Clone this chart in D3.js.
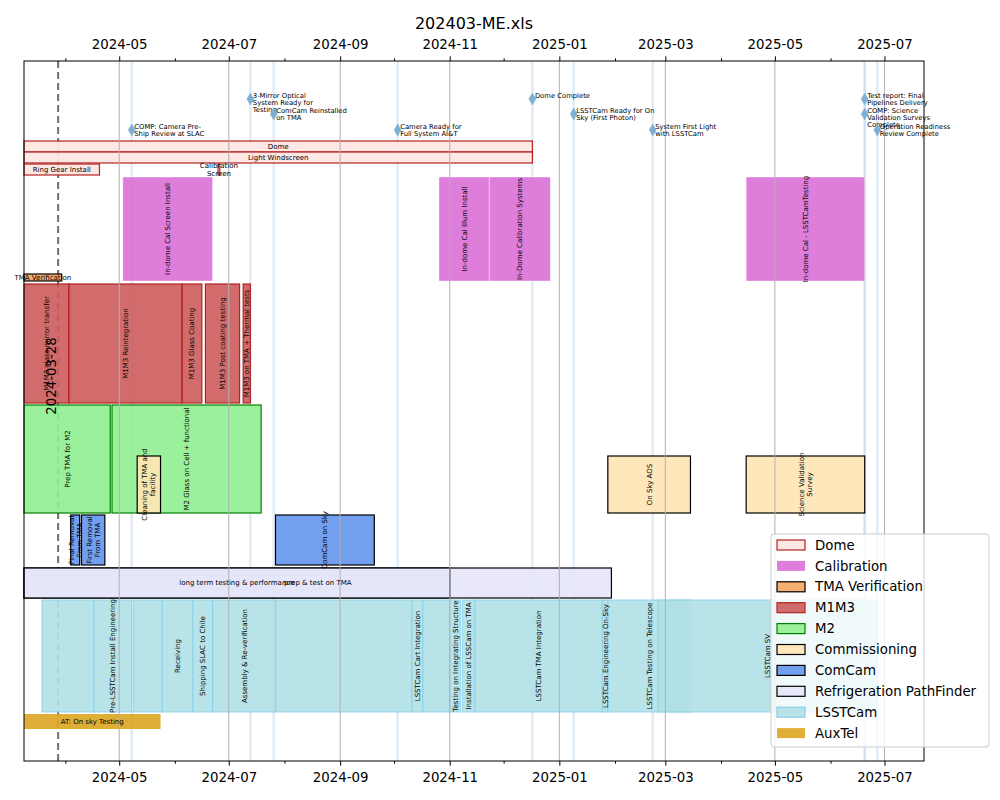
<!DOCTYPE html>
<html><head><meta charset="utf-8">
<script src="https://cdn.jsdelivr.net/npm/d3@7"></script>
<style>
body{margin:0;background:#fff}
text{font-family:"DejaVu Sans",sans-serif;fill:#000}
</style>
</head><body>
<svg id="chart" width="1000" height="800"></svg>
<script>
// ---------------- DATA ----------------
const chartTitle = "202403-ME.xls";
const xDomain = ["2024-03-09", "2025-07-23"];
const majorTicks = ["2024-05-01","2024-07-01","2024-09-01","2024-11-01","2025-01-01","2025-03-01","2025-05-01","2025-07-01"];
const minorTicks = ["2024-04-01","2024-06-01","2024-08-01","2024-10-01","2024-12-01","2025-02-01","2025-04-01","2025-06-01"];
const todayDate = "2024-03-28";
const todayLabel = "2024-03-28";

const groupNames = ["Dome","Calibration","TMA Verification","M1M3","M2","Commissioning","ComCam","Refrigeration PathFinder","LSSTCam","AuxTel"];

// Gantt lanes (vertical position in lane units, top->down)
const laneNames  = ["Dome","Light Windscreen","Ring Gear","Calibration","TMA","M1M3","M2","Commissioning","ComCam","Refrigeration","LSSTCam","AuxTel"];
const laneTop    = [80, 91, 103, 116, 213, 223, 344, 395, 454, 507, 539, 653];
const laneHeight = [11, 11, 11, 104, 7, 119, 108, 57, 50, 30, 112, 15];

const taskNames = [
 "Dome","Light Windscreen","Ring Gear Install","Calibration\nScreen",
 "In-dome Cal Screen Install","In-dome Cal Illum Install","In-Dome Calibration Systems","In-dome Cal - LSSTCamTesting",
 "TMA Verification",
 "M1M3 glass mirror transfer","M1M3 Reintegration","M1M3 Glass Coating","M1M3 Post coating testing","M1M3 on TMA + Thermal tests",
 "Prep TMA for M2","M2 Glass on Cell + functional",
 "Cleaning of TMA and\nfacility","On Sky AOS","Science Validation\nSurvey",
 "Final Removal\nFrom TMA","First Removal\nFrom TMA","ComCam on Sky",
 "prep & test  on TMA","long term testing & performance",
 "","Pre-LSSTCam Install Engineering","","Receiving","Shipping SLAC to Chile","Assembly & Re-verification","",
 "LSSTCam Cart Integration","","Testing on Integrating Structure","Installation of LSSCam on TMA","LSSTCam TMA Integration",
 "LSSTCam Engineering On-Sky","LSSTCam Testing on Telescope","LSSTCam SV",
 "AT: On sky Testing"
];
const taskGroup = [
 "Dome","Dome","Dome","Dome",
 "Calibration","Calibration","Calibration","Calibration",
 "TMA Verification",
 "M1M3","M1M3","M1M3","M1M3","M1M3",
 "M2","M2",
 "Commissioning","Commissioning","Commissioning",
 "ComCam","ComCam","ComCam",
 "Refrigeration PathFinder","Refrigeration PathFinder",
 "LSSTCam","LSSTCam","LSSTCam","LSSTCam","LSSTCam","LSSTCam","LSSTCam",
 "LSSTCam","LSSTCam","LSSTCam","LSSTCam","LSSTCam",
 "LSSTCam","LSSTCam","LSSTCam",
 "AuxTel"
];
const taskLane = [
 "Dome","Light Windscreen","Ring Gear","Ring Gear",
 "Calibration","Calibration","Calibration","Calibration",
 "TMA",
 "M1M3","M1M3","M1M3","M1M3","M1M3",
 "M2","M2",
 "Commissioning","Commissioning","Commissioning",
 "ComCam","ComCam","ComCam",
 "Refrigeration","Refrigeration",
 "LSSTCam","LSSTCam","LSSTCam","LSSTCam","LSSTCam","LSSTCam","LSSTCam",
 "LSSTCam","LSSTCam","LSSTCam","LSSTCam","LSSTCam",
 "LSSTCam","LSSTCam","LSSTCam",
 "AuxTel"
];
const taskStart = [
 "2024-03-09","2024-03-09","2024-03-09","2024-06-25",
 "2024-05-03","2024-10-26","2024-11-23","2025-04-15",
 "2024-03-09",
 "2024-03-09","2024-04-03","2024-06-05","2024-06-18","2024-07-09",
 "2024-03-09","2024-04-27",
 "2024-05-11","2025-01-28","2025-04-15",
 "2024-04-04","2024-04-10","2024-07-27",
 "2024-03-09","2024-03-09",
 "2024-03-19","2024-04-17","2024-05-09","2024-05-25","2024-06-11","2024-06-22","2024-07-27",
 "2024-10-11","2024-10-17","2024-11-01","2024-11-08","2024-11-15",
 "2025-01-25","2025-01-28","2025-02-25",
 "2024-03-09"
];
const taskEnd = [
 "2024-12-17","2024-12-17","2024-04-20","2024-06-26",
 "2024-06-22","2024-11-23","2024-12-27","2025-06-20",
 "2024-03-30",
 "2024-04-03","2024-06-05","2024-06-16","2024-07-07","2024-07-13",
 "2024-04-26","2024-07-19",
 "2024-05-24","2025-03-15","2025-06-20",
 "2024-04-09","2024-04-23","2024-09-20",
 "2025-01-30","2024-11-01",
 "2024-04-17","2024-05-08","2024-05-25","2024-06-11","2024-06-22","2024-07-27","2024-10-11",
 "2024-10-17","2024-11-01","2024-11-07","2024-11-15","2025-01-25",
 "2025-01-28","2025-03-15","2025-06-27",
 "2024-05-24"
];

const milestoneNames = [
 "COMP: Camera Pre-\nShip Review at SLAC",
 "3-Mirror Optical\nSystem Ready for\nTesting",
 "ComCam Reinstalled\non TMA",
 "Camera Ready for\nFull System AI&T",
 "Dome Complete",
 "LSSTCam Ready for On\nSky (First Photon)",
 "System First Light\nwith LSSTCam",
 "Test report: Final\nPipelines Delivery",
 "COMP: Science\nValidation Surveys\nComplete",
 "Operation Readiness\nReview Complete"
];
const milestoneDates = ["2024-05-08","2024-07-13","2024-07-26","2024-10-03","2024-12-17","2025-01-09","2025-02-22","2025-06-20","2025-06-20","2025-06-27"];
const milestoneLevel = [69, 38, 53, 69, 38, 53, 69, 38, 53, 69];

// ---------------- STYLE ----------------
const groupFill   = ["mistyrose","orchid","sandybrown","indianred","lightgreen","moccasin","cornflowerblue","lavender","powderblue","goldenrod"];
const groupStroke = ["firebrick","#ffffff","black","firebrick","green","black","black","black","skyblue","none"];

// ---------------- DRAW ----------------
const parse = d3.utcParse("%Y-%m-%d");
const svg = d3.select("#chart");
const L = 24, R = 924, T = 61, B = 761;
const x = d3.scaleUtc().domain(xDomain.map(parse)).range([L, R]);
const y = d3.scaleLinear().domain([0, 700]).range([T, B]);
const fillOf = d3.scaleOrdinal().domain(groupNames).range(groupFill);
const strokeOf = d3.scaleOrdinal().domain(groupNames).range(groupStroke);
const laneIdx = n => laneNames.indexOf(n);

svg.append("rect").attr("width",1000).attr("height",800).attr("fill","#fff");

const tasks = taskNames.map((n,i)=>({
  name:n, group:taskGroup[i], start:parse(taskStart[i]), end:parse(taskEnd[i]),
  top:laneTop[laneIdx(taskLane[i])], h:laneHeight[laneIdx(taskLane[i])]
}));
const milestones = milestoneNames.map((n,i)=>({name:n, date:parse(milestoneDates[i]), lvl:milestoneLevel[i]}));

// milestone vertical lines
svg.append("g").selectAll("line").data(milestones).join("line")
  .attr("x1",d=>x(d.date)).attr("x2",d=>x(d.date)).attr("y1",T).attr("y2",B)
  .attr("stroke","#c6dbef").attr("stroke-opacity",0.55).attr("stroke-width",2.5);

// today dashed line
svg.append("line").attr("x1",x(parse(todayDate))).attr("x2",x(parse(todayDate)))
  .attr("y1",T).attr("y2",B).attr("stroke","#707070").attr("stroke-width",2)
  .attr("stroke-dasharray","7,4");

// bars
svg.append("g").selectAll("rect").data(tasks).join("rect")
  .attr("x",d=>x(d.start)).attr("width",d=>Math.max(0.5,x(d.end)-x(d.start)))
  .attr("y",d=>y(d.top)).attr("height",d=>y(d.top+d.h)-y(d.top))
  .attr("fill",d=>fillOf(d.group)).attr("fill-opacity",0.9)
  .attr("stroke",d=>strokeOf(d.group)).attr("stroke-width",d=>d.group==="Calibration"?0.8:1.2)
  .attr("stroke-opacity",d=>d.group==="Calibration"?0.5:(d.group==="LSSTCam"?0.7:1));

// gridlines (above bars)
svg.append("g").selectAll("line").data(majorTicks.map(parse)).join("line")
  .attr("x1",d=>x(d)).attr("x2",d=>x(d)).attr("y1",T).attr("y2",B)
  .attr("stroke","#b0b0b0").attr("stroke-width",1);

// bar labels
const fs = 7, lh = 7.8;
tasks.filter(d=>d.name).forEach(d=>{
  const cx = (x(d.start)+x(d.end))/2, cy = (y(d.top)+y(d.top+d.h))/2;
  const lines = d.name.split("\n");
  const rot = d.h > 40;
  const t = svg.append("text").attr("font-size",fs).attr("text-anchor","middle")
    .attr("transform",`translate(${cx},${cy})${rot?" rotate(-90)":""}`);
  lines.forEach((ln,k)=>{
    t.append("tspan").attr("x",0).attr("y",(k-(lines.length-1)/2)*lh).attr("dy","0.35em").text(ln);
  });
});

// milestones
const ms = svg.append("g");
const mfs = 6.8;
milestones.forEach(d=>{
  const mx = x(d.date), my = y(d.lvl);
  ms.append("path").attr("d",`M${mx},${my-6}L${mx+3.5},${my}L${mx},${my+6}L${mx-3.5},${my}Z`)
    .attr("fill","#7eb0d5").attr("stroke","#7eb0d5").attr("stroke-width",0.5);
  const t = ms.append("text").attr("font-size",mfs);
  d.name.split("\n").forEach((ln,k)=>{
    t.append("tspan").attr("x",mx+2.5).attr("y",my-3.3+k*7).attr("dy","0.35em").text(ln);
  });
});

// today label
svg.append("text").attr("font-size",13.33).attr("text-anchor","middle")
  .attr("transform",`translate(${x(parse(todayDate))-7},376) rotate(-90)`)
  .attr("dy","0.35em").text(todayLabel);

// frame
svg.append("rect").attr("x",L).attr("y",T).attr("width",R-L).attr("height",B-T)
  .attr("fill","none").attr("stroke","#000").attr("stroke-width",1);

// axes
const fmt = d3.utcFormat("%Y-%m");
const axB = svg.append("g").attr("transform",`translate(0,${B})`)
  .call(d3.axisBottom(x).tickValues(majorTicks.map(parse)).tickFormat(fmt).tickSize(4.7).tickPadding(6.5));
const axT = svg.append("g").attr("transform",`translate(0,${T})`)
  .call(d3.axisTop(x).tickValues(majorTicks.map(parse)).tickFormat(fmt).tickSize(4.7).tickPadding(7.5));
[axB, axT].forEach(a=>{
  a.select(".domain").remove();
  a.selectAll("text").attr("font-size",13.33).attr("font-family","DejaVu Sans").attr("fill","#000");
  a.selectAll("line").attr("stroke","#000");
});
svg.append("g").attr("transform",`translate(0,${B})`)
  .call(d3.axisBottom(x).tickValues(minorTicks.map(parse)).tickFormat("").tickSize(2.7))
  .call(g=>g.select(".domain").remove()).selectAll("line").attr("stroke","#000");
svg.append("g").attr("transform",`translate(0,${T})`)
  .call(d3.axisTop(x).tickValues(minorTicks.map(parse)).tickFormat("").tickSize(2.7))
  .call(g=>g.select(".domain").remove()).selectAll("line").attr("stroke","#000");

// title
svg.append("text").attr("x",474).attr("y",29).attr("text-anchor","middle")
  .attr("font-size",16).text(chartTitle);

// legend
const lg = svg.append("g").attr("transform","translate(771,534)");
lg.append("rect").attr("width",218).attr("height",213).attr("rx",3)
  .attr("fill","#fff").attr("fill-opacity",0.8).attr("stroke","#cccccc").attr("stroke-width",1);
groupNames.forEach((g,i)=>{
  const ry = 11 + i*20.9;
  lg.append("rect").attr("x",6).attr("y",ry-5).attr("width",28).attr("height",10)
    .attr("fill",fillOf(g)).attr("fill-opacity",0.9)
    .attr("stroke",g==="Calibration"?"none":strokeOf(g)).attr("stroke-width",1.2);
  lg.append("text").attr("x",44).attr("y",ry).attr("dy","0.35em").attr("font-size",13.33).text(g);
});
</script>
</body></html>
